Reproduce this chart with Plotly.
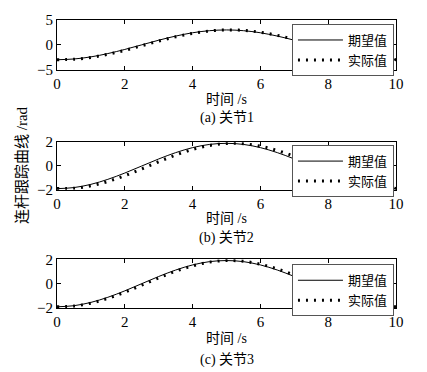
import plotly.graph_objects as go

t = [0, 0.5, 1, 1.5, 2, 2.5, 3, 3.5, 4, 4.5, 5, 5.5, 6, 6.5, 7, 7.5, 8, 8.5, 9, 9.5, 10]

desired1 = [-3.00, -2.85, -2.43, -1.76, -0.93, 0.00, 0.93, 1.76, 2.43, 2.85, 3.00,
            2.85, 2.43, 1.76, 0.93, 0.00, -0.93, -1.76, -2.43, -2.85, -3.00]
actual1 = [-2.99, -2.91, -2.53, -1.91, -1.10, -0.19, 0.75, 1.61, 2.31, 2.79, 2.99,
           2.91, 2.53, 1.91, 1.10, 0.19, -0.75, -1.61, -2.31, -2.79, -2.99]

desired2 = [-1.90, -1.81, -1.54, -1.12, -0.59, 0.00, 0.59, 1.12, 1.54, 1.81, 1.90,
            1.81, 1.54, 1.12, 0.59, 0.00, -0.59, -1.12, -1.54, -1.81, -1.90]
actual2 = [-1.89, -1.87, -1.66, -1.30, -0.81, -0.24, 0.36, 0.92, 1.39, 1.72, 1.88,
           1.87, 1.66, 1.30, 0.81, 0.24, -0.36, -0.92, -1.39, -1.72, -1.88]

desired3 = [-1.90, -1.81, -1.54, -1.12, -0.59, 0.00, 0.59, 1.12, 1.54, 1.81, 1.90,
            1.81, 1.54, 1.12, 0.59, 0.00, -0.59, -1.12, -1.54, -1.81, -1.90]
actual3 = [-1.90, -1.84, -1.60, -1.21, -0.70, -0.12, 0.47, 1.02, 1.46, 1.77, 1.90,
           1.84, 1.60, 1.21, 0.70, 0.12, -0.47, -1.02, -1.46, -1.77, -1.90]

y_ranges = [[-5, 5], [-2, 2], [-2, 2]]
y_ticks = [[-5, 0, 5], [-2, 0, 2], [-2, 0, 2]]
x_ticks = [0, 2, 4, 6, 8, 10]
captions = ["(a) 关节1", "(b) 关节2", "(c) 关节3"]
legend_names = ["期望值", "实际值"]
xlabel = "时间 /s"
ylabel = "连杆跟踪曲线 /rad"

FONT = "Liberation Serif, Times New Roman, Noto Sans CJK SC, serif"

fig = go.Figure()
domains = [[0.8276, 1.0], [0.4103, 0.5759], [0.0, 0.169]]
legend_tops = [0.986, 0.5655, 0.1517]
series = [(desired1, actual1), (desired2, actual2), (desired3, actual3)]
legend_ids = ["legend", "legend2", "legend3"]

for i, (d, a) in enumerate(series):
    xa = "x" if i == 0 else f"x{i+1}"
    ya = "y" if i == 0 else f"y{i+1}"
    fig.add_trace(go.Scatter(x=t, y=a, mode="lines", name=legend_names[1],
                             line=dict(color="black", width=3, dash="2px,6px", shape="spline"),
                             xaxis=xa, yaxis=ya, legend=legend_ids[i], legendrank=2))
    fig.add_trace(go.Scatter(x=t, y=d, mode="lines", name=legend_names[0],
                             line=dict(color="black", width=1, shape="spline"),
                             xaxis=xa, yaxis=ya, legend=legend_ids[i], legendrank=1))

axis_common = dict(showgrid=False, zeroline=False, showline=True, linecolor="black",
                   linewidth=1, mirror="allticks", ticks="inside", ticklen=4,
                   tickcolor="black", tickfont=dict(family=FONT, size=15, color="black"))

layout = dict(
    width=427, height=372,
    margin=dict(l=57, r=31, t=18, b=64),
    paper_bgcolor="white", plot_bgcolor="white",
    font=dict(family=FONT, size=14, color="black"),
    showlegend=True,
)
for i in range(3):
    xk = "xaxis" if i == 0 else f"xaxis{i+1}"
    yk = "yaxis" if i == 0 else f"yaxis{i+1}"
    ya = "y" if i == 0 else f"y{i+1}"
    xa = "x" if i == 0 else f"x{i+1}"
    layout[xk] = dict(axis_common, domain=[0, 1], range=[0, 10], tickvals=x_ticks,
                      anchor=ya)
    layout[yk] = dict(axis_common, domain=domains[i], range=y_ranges[i],
                      tickvals=y_ticks[i], anchor=xa)
    lk = legend_ids[i]
    layout[lk] = dict(x=0.994, y=legend_tops[i], xanchor="right", yanchor="top",
                      bgcolor="white", bordercolor="#555555", borderwidth=1,
                      font=dict(family=FONT, size=13, color="black"),
                      itemwidth=45, tracegroupgap=0)

fig.update_layout(**layout)

xlabel_y = [0.7241, 0.3103, -0.1069]
caption_y = [0.6586, 0.2414, -0.1793]
for i in range(3):
    fig.add_annotation(text=xlabel, x=0.5, y=xlabel_y[i], xref="paper", yref="paper",
                       showarrow=False, xanchor="center", yanchor="middle",
                       font=dict(family=FONT, size=14, color="black"))
    fig.add_annotation(text=captions[i], x=0.5, y=caption_y[i], xref="paper", yref="paper",
                       showarrow=False, xanchor="center", yanchor="middle",
                       font=dict(family=FONT, size=14, color="black"))

fig.add_annotation(text=ylabel, x=-0.1032, y=0.4966, xref="paper", yref="paper",
                   showarrow=False, textangle=-90, xanchor="center", yanchor="middle",
                   font=dict(family=FONT, size=15, color="black"))

fig.write_html("out.html", config={"displayModeBar": False},
               post_script="document.body.style.margin='0';document.body.style.overflow='hidden';")
